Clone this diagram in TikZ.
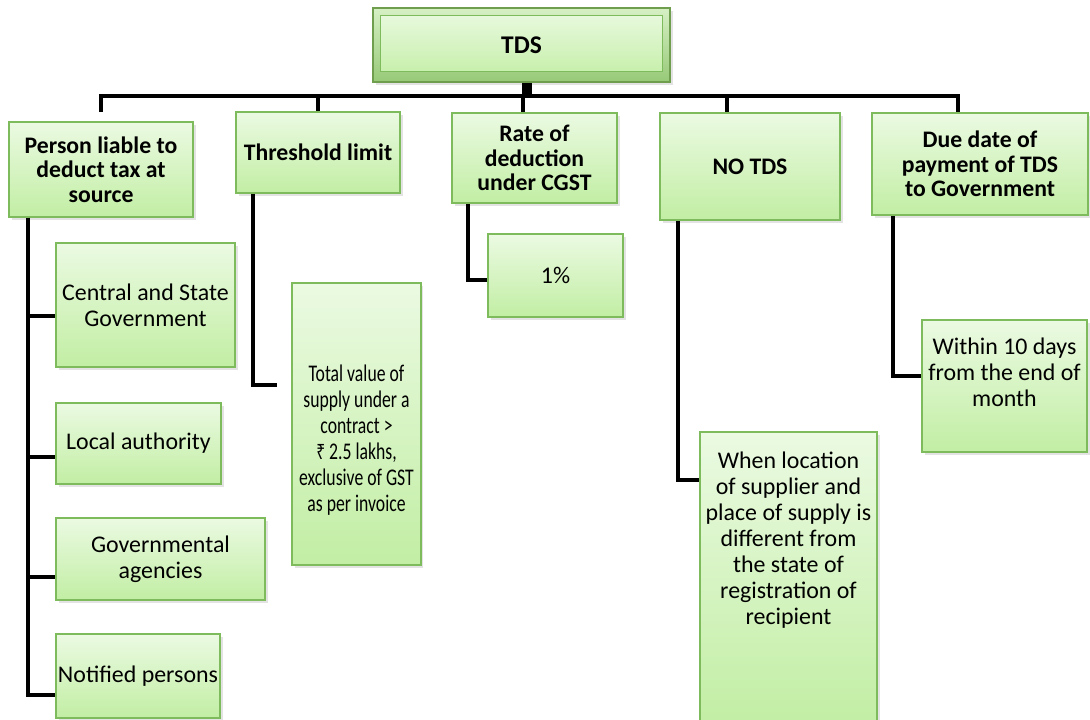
\documentclass[tikz,border=0pt]{standalone}
\usepackage{fontspec}
\setmainfont{Carlito}
\newfontfamily\narrowfont[FakeStretch=0.74]{Carlito}
\newfontfamily\rupeefont[FakeStretch=0.74]{Noto Sans}
\usetikzlibrary{shadows}
\definecolor{boxtop}{HTML}{EBFAE2}
\definecolor{boxbot}{HTML}{C2EEA4}
\definecolor{boxline}{HTML}{7DBB5C}
\definecolor{frametop}{HTML}{D6F0C4}
\definecolor{framebot}{HTML}{97C978}
\definecolor{frameline}{HTML}{6E9E4E}
\tikzset{
  greenbox/.style={draw=boxline, line width=0.9pt, top color=boxtop, bottom color=boxbot,
    align=center, inner sep=1pt, font=\fontsize{13.6}{14.8}\selectfont,
    drop shadow={opacity=0.22, shadow xshift=1.5pt, shadow yshift=-1.8pt}},
  headbox/.style={greenbox, font=\fontsize{13.5}{13.9}\selectfont\bfseries},
  conn/.style={line width=2.6pt, black},
  stub/.style={line width=5.5pt, black}
}
\begin{document}
\begin{tikzpicture}[x=0.02cm, y=-0.02cm]
    \useasboundingbox (0,0) rectangle (1090,720);
    % top box
    \node[headbox, draw=frameline, top color=frametop, bottom color=framebot, font=\fontsize{14.5}{15}\selectfont\bfseries,
      minimum width=5.94cm, minimum height=1.48cm,
      path picture={\draw[draw=boxline, line width=0.6pt, top color=boxtop, bottom color=boxbot]
        ([shift={(4.5pt,-4pt)}]path picture bounding box.north west) rectangle
        ([shift={(-4.5pt,6pt)}]path picture bounding box.south east);}] (tds) at (521.5,45) {TDS};
    % heads
    \node[headbox, minimum width=3.68cm, minimum height=1.9cm] (liable) at (101,169.5) {Person liable to\\deduct tax at\\source};
    \node[headbox, minimum width=3.28cm, minimum height=1.62cm] (limit) at (318,152.5) {Threshold limit};
    \node[headbox, minimum width=3.3cm, minimum height=1.8cm] (rate) at (534.5,158) {Rate of\\deduction\\under CGST};
    \node[headbox, minimum width=3.6cm, minimum height=2.14cm] (notds) at (750,166.5) {NO TDS};
    \node[headbox, minimum width=4.32cm, minimum height=2.04cm] (duedate) at (980,164) {Due date of\\payment of TDS\\to Government};
    % sub boxes
    \node[greenbox, minimum width=3.58cm, minimum height=2.48cm] (central) at (145.5,305) {Central and State\\Government};
    \node[greenbox, minimum width=3.3cm, minimum height=1.62cm] (local) at (138.5,443.5) {Local authority};
    \node[greenbox, minimum width=4.18cm, minimum height=1.64cm] (agency) at (160.5,559) {Governmental\\agencies};
    \node[greenbox, minimum width=3.28cm, minimum height=1.68cm] (notified) at (138,676) {Notified persons};
    \node[greenbox, minimum width=2.54cm, minimum height=5.64cm] (total) at (356.5,424)
      {\parbox[c][5.5cm][c]{2.5cm}{\narrowfont\centering\vspace*{0.64cm}Total value of\par supply under a\par contract >\par {\rupeefont\fontsize{12}{14.8}\selectfont ₹} 2.5 lakhs,\par exclusive of GST\par as per invoice}};
    \node[greenbox, minimum width=2.7cm, minimum height=1.66cm] (onepct) at (555.5,275.5) {1\%};
    \node[greenbox, minimum width=3.54cm, minimum height=5.84cm] (location) at (788.5,578)
      {\parbox[c][5.7cm][c]{3.45cm}{\centering When location\par of supplier and\par place of supply is\par different from\par the state of\par registration of\par recipient\par\vspace*{1.52cm}}};
    \node[greenbox, minimum width=3.3cm, minimum height=2.64cm] (within) at (1004.5,386)
      {\parbox[c][2.5cm][c]{3.2cm}{\centering Within 10 days\par from the end of\par month\par\vspace*{0.56cm}}};
    % bus
    \coordinate (b3) at (523,96);
    \coordinate (b4) at (727,96);
    \coordinate (b5) at (958,96);
    \coordinate (bus) at (527,96);
    \draw[conn] (liable.north) ++(0,-9) |- (b5) -- (b5 |- duedate.north);
    \draw[conn] (limit.north) -- (limit.north |- b5);
    \draw[conn] (b3) -- (b3 |- rate.north);
    \draw[conn] (b4) -- (b4 |- notds.north);
    \draw[stub] (bus |- tds.south) -- (bus);
    % branches
    \coordinate (v1) at (28,0);
    \coordinate (v2) at (253,0);
    \coordinate (v3) at (468,0);
    \coordinate (v4) at (678,0);
    \coordinate (v5) at (893,0);
    \coordinate (e2) at (277,385);
    \draw[conn] (liable.south -| v1) |- (notified.west |- 0,695);
    \draw[conn] (liable.south -| v1) |- (central.west |- 0,316);
    \draw[conn] (liable.south -| v1) |- (local.west |- 0,457);
    \draw[conn] (liable.south -| v1) |- (agency.west |- 0,577);
    \draw[conn] (limit.south -| v2) |- (e2);
    \draw[conn] (rate.south -| v3) |- (onepct.west |- 0,280);
    \draw[conn] (notds.south -| v4) |- (location.west |- 0,480);
    \draw[conn] (duedate.south -| v5) |- (within.west |- 0,376);
\end{tikzpicture}
\end{document}
